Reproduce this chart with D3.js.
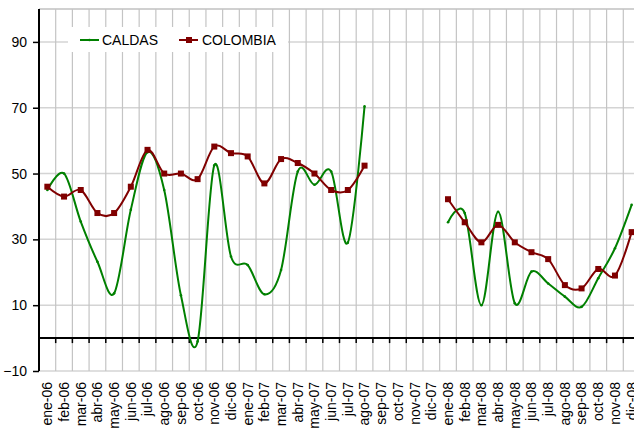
<!DOCTYPE html>
<html>
<head>
<meta charset="utf-8">
<script src="https://d3js.org/d3.v7.min.js"></script>
<style>
  body { margin: 0; background: #fff; overflow: hidden; }
  svg { display: block; font-family: "Liberation Sans", Arial, sans-serif; }
</style>
</head>
<body>
<div id="chart"></div>
<script>
// months on the category axis
var months = ["ene-06","feb-06","mar-06","abr-06","may-06","jun-06","jul-06","ago-06","sep-06","oct-06","nov-06","dic-06",
              "ene-07","feb-07","mar-07","abr-07","may-07","jun-07","jul-07","ago-07","sep-07","oct-07","nov-07","dic-07",
              "ene-08","feb-08","mar-08","abr-08","may-08","jun-08","jul-08","ago-08","sep-08","oct-08","nov-08","dic-08"];

var caldas = [45, 50, 35.4, 23.2, 13.6, 39, 56.5, 45, 13, -1, 52.5, 24.8,
              22.2, 13.3, 20.7, 50.6, 46.6, 50.6, 29, 70.4, null, null, null, null,
              35.2, 38, 10, 38.4, 10.6, 20.2, 16.6, 12.6, 9.5, 18.2, 27.3, 40.5];

var colombia = [46, 43, 45, 38, 38, 46, 57.2, 50, 50, 48.3, 58.2, 56.2,
                55.2, 47, 54.4, 53.2, 50, 45, 45, 52.4, null, null, null, null,
                42.2, 35.2, 29.1, 34.4, 29.1, 26.1, 24, 16.1, 15.1, 21, 19, 32.2];

var yTicks = [-10, 10, 30, 50, 70, 90];

var W = 634, H = 432;
var plotLeft = 39, plotTop = 9, plotRight = 640, plotBottom = 371;

var svg = d3.select("#chart").append("svg")
  .attr("width", W)
  .attr("height", H);

var x = d3.scaleBand()
  .domain(months)
  .range([plotLeft, plotRight]);

var y = d3.scaleLinear()
  .domain([-10, 100])
  .range([plotBottom, plotTop]);

var bw = x.bandwidth();

// horizontal gridlines
svg.append("g")
  .selectAll("line")
  .data(yTicks)
  .enter().append("line")
    .attr("x1", plotLeft).attr("x2", plotRight)
    .attr("y1", function(d) { return y(d); })
    .attr("y2", function(d) { return y(d); })
    .style("stroke", "#d4d4d4")
    .style("stroke-width", 1.5);

// top border
svg.append("line")
  .attr("x1", plotLeft).attr("x2", plotRight)
  .attr("y1", y(100)).attr("y2", y(100))
  .style("stroke", "#c0c0c0")
  .style("stroke-width", 1.5);

// vertical gridlines at the band edges
svg.append("g")
  .selectAll("line")
  .data(months)
  .enter().append("line")
    .attr("x1", function(d) { return x(d) + bw; })
    .attr("x2", function(d) { return x(d) + bw; })
    .attr("y1", y(100)).attr("y2", y(-10))
    .style("stroke", "#c4c4c4")
    .style("stroke-width", 1.2);

// category axis crossing at zero
var xAxis = svg.append("g")
  .attr("transform", "translate(0," + y(0) + ")");
xAxis.append("line")
  .attr("x1", plotLeft).attr("x2", plotRight)
  .style("stroke", "#000")
  .style("stroke-width", 2);
xAxis.selectAll(".tk")
  .data(months)
  .enter().append("line")
    .attr("class", "tk")
    .attr("x1", function(d) { return x(d) + bw; })
    .attr("x2", function(d) { return x(d) + bw; })
    .attr("y1", 0).attr("y2", 5)
    .style("stroke", "#000")
    .style("stroke-width", 1.5);

// month labels
svg.append("g")
  .selectAll("text")
  .data(months)
  .enter().append("text")
    .attr("transform", function(d) {
      return "translate(" + (x(d) + bw / 2) + "," + 382 + ") rotate(-90)";
    })
    .attr("dy", "0.35em")
    .attr("text-anchor", "end")
    .style("font-size", "14px")
    .style("fill", "#000")
    .text(function(d) { return d; });

// value axis
var yAxis = svg.append("g")
  .attr("transform", "translate(" + plotLeft + ",0)")
  .call(d3.axisLeft(y).tickValues(yTicks).tickSize(6).tickPadding(6));
yAxis.select(".domain").remove();
yAxis.selectAll("line").style("stroke", "#000").style("stroke-width", 1.5);
yAxis.selectAll("text").style("font-size", "14px").style("font-family", "Liberation Sans, Arial, sans-serif").style("fill", "#000");
svg.append("line")
  .attr("x1", plotLeft).attr("x2", plotLeft)
  .attr("y1", plotTop).attr("y2", plotBottom)
  .style("stroke", "#000")
  .style("stroke-width", 2);

// smoothed lines
function lineFor(values) {
  return d3.line()
    .defined(function(d) { return d != null; })
    .x(function(d, i) { return x(months[i]) + bw / 2; })
    .y(function(d) { return y(d); })
    .curve(d3.curveCardinal.tension(0))(values);
}

svg.append("path")
  .attr("d", lineFor(caldas))
  .style("fill", "none")
  .style("stroke", "#008000")
  .style("stroke-width", 2);

svg.append("path")
  .attr("d", lineFor(colombia))
  .style("fill", "none")
  .style("stroke", "#800000")
  .style("stroke-width", 2);

// tiny markers on caldas
svg.append("g")
  .selectAll("circle")
  .data(months.filter(function(m, i) { return caldas[i] != null; }))
  .enter().append("circle")
    .attr("cx", function(m) { return x(m) + bw / 2; })
    .attr("cy", function(m) { return y(caldas[months.indexOf(m)]); })
    .attr("r", 1.3)
    .style("fill", "#008000");

// square markers on colombia
svg.append("g")
  .selectAll("rect")
  .data(months.filter(function(m, i) { return colombia[i] != null; }))
  .enter().append("rect")
    .attr("x", function(m) { return x(m) + bw / 2 - 3; })
    .attr("y", function(m) { return y(colombia[months.indexOf(m)]) - 3; })
    .attr("width", 6).attr("height", 6)
    .style("fill", "#800000");

// legend
var legend = svg.append("g");
legend.append("rect")
  .attr("x", 68).attr("y", 27)
  .attr("width", 220).attr("height", 25)
  .style("fill", "#fff");

legend.append("line")
  .attr("x1", 80).attr("x2", 99)
  .attr("y1", 40).attr("y2", 40)
  .style("stroke", "#008000").style("stroke-width", 2);
legend.append("circle")
  .attr("cx", 89.5).attr("cy", 40).attr("r", 1.3)
  .style("fill", "#008000");
legend.append("text")
  .attr("x", 102).attr("y", 45)
  .style("font-size", "14px")
  .text("CALDAS");

legend.append("line")
  .attr("x1", 179).attr("x2", 198)
  .attr("y1", 40).attr("y2", 40)
  .style("stroke", "#800000").style("stroke-width", 2);
legend.append("rect")
  .attr("x", 186).attr("y", 37).attr("width", 6).attr("height", 6)
  .style("fill", "#800000");
legend.append("text")
  .attr("x", 202).attr("y", 45)
  .style("font-size", "14px")
  .text("COLOMBIA");
</script>
</body>
</html>
